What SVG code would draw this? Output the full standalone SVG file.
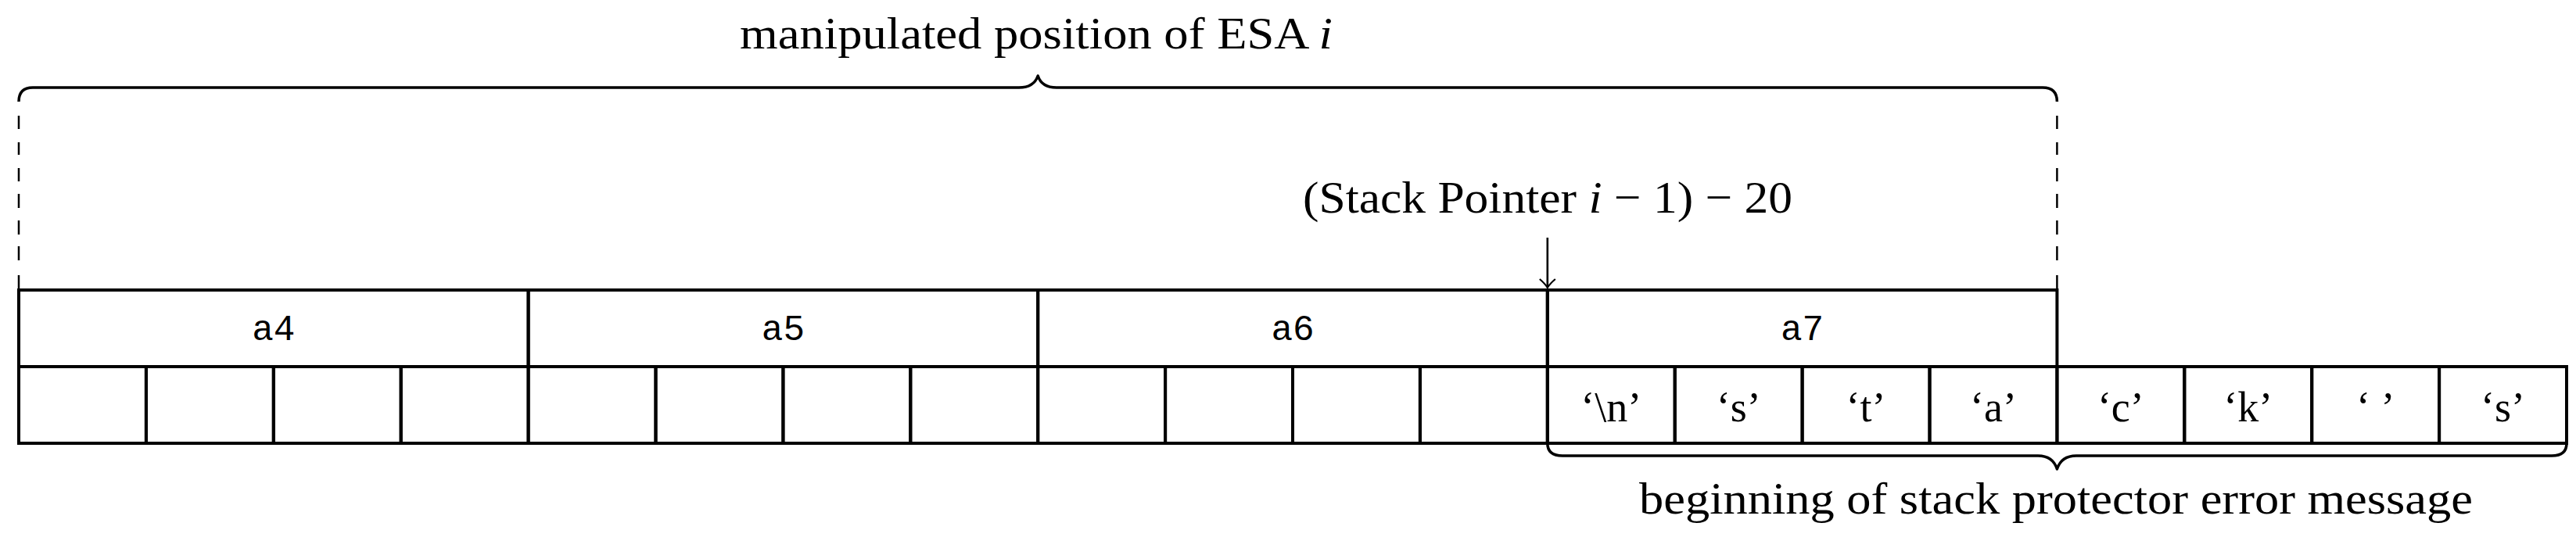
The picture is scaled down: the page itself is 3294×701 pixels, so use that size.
<svg xmlns="http://www.w3.org/2000/svg" width="3294" height="701" viewBox="0 0 3294 701">
<style>
.bg{fill:#ffffff}
.box{fill:none;stroke:#000;stroke-width:4}
.brace{fill:none;stroke:#000;stroke-width:3.5;stroke-linejoin:round}
.dash{fill:none;stroke:#000;stroke-width:2.5}
.conn{fill:none;stroke:#000;stroke-width:2.6}
.serif{font-family:"Liberation Serif","Times New Roman",serif;font-size:58px;fill:#000;text-anchor:middle}
.cell{font-family:"Liberation Serif","Times New Roman",serif;font-size:54px;fill:#000;text-anchor:middle}
.mono{font-family:"Liberation Mono","Courier New",monospace;font-size:46px;fill:#000;text-anchor:middle}
</style>
<defs>
<marker id="arr" markerWidth="14" markerHeight="24" refX="12" refY="12" orient="auto" markerUnits="userSpaceOnUse" viewBox="0 0 14 24">
<path d="M1,2 Q7,9 12,12 Q7,15 1,22" fill="none" stroke="#000" stroke-width="2.2"/>
</marker>
</defs>
<rect class="bg" x="0" y="0" width="3294" height="701"/>

<g id="top-brace">
<path class="brace" d="M24,130 Q24,112 42,112 L1303,112 Q1322,112 1327.2,97 Q1332,112 1351,112 L2612,112 Q2630.4,112 2630.4,130"/>
<path class="dash" d="M24,148 V165 M24,182 V198 M24,215 V232 M24,248 V266 M24,282 V300 M24,315 V333 M24,352 V371"/>
<path class="dash" d="M2630.4,148 V165 M2630.4,182 V198 M2630.4,215 V232 M2630.4,248 V266 M2630.4,282 V300 M2630.4,315 V333 M2630.4,352 V371"/>
<text class="serif" x="1325" y="62" textLength="758" lengthAdjust="spacingAndGlyphs">manipulated position of ESA <tspan font-style="italic">i</tspan></text>
</g>

<g id="sp-label">
<text class="serif" x="1979" y="272" textLength="626" lengthAdjust="spacingAndGlyphs">(Stack Pointer <tspan font-style="italic">i</tspan> − 1) − 20</text>
</g>

<g id="word-a4">
<rect class="box" x="24" y="371" width="651.6" height="98"/>
<text class="mono" x="349.8" y="435">a4</text>
</g>
<g id="word-a5">
<rect class="box" x="675.6" y="371" width="651.6" height="98"/>
<text class="mono" x="1001.4" y="435">a5</text>
</g>
<g id="word-a6">
<rect class="box" x="1327.2" y="371" width="651.6" height="98"/>
<text class="mono" x="1653" y="435">a6</text>
</g>
<g id="word-a7">
<rect class="box" x="1978.8" y="371" width="651.6" height="98"/>
<text class="mono" x="2304.6" y="435">a7</text>
</g>

<g id="byte-0"><rect class="box" x="24" y="469" width="162.9" height="98"/></g>
<g id="byte-1"><rect class="box" x="186.9" y="469" width="162.9" height="98"/></g>
<g id="byte-2"><rect class="box" x="349.8" y="469" width="162.9" height="98"/></g>
<g id="byte-3"><rect class="box" x="512.7" y="469" width="162.9" height="98"/></g>
<g id="byte-4"><rect class="box" x="675.6" y="469" width="162.9" height="98"/></g>
<g id="byte-5"><rect class="box" x="838.5" y="469" width="162.9" height="98"/></g>
<g id="byte-6"><rect class="box" x="1001.4" y="469" width="162.9" height="98"/></g>
<g id="byte-7"><rect class="box" x="1164.3" y="469" width="162.9" height="98"/></g>
<g id="byte-8"><rect class="box" x="1327.2" y="469" width="162.9" height="98"/></g>
<g id="byte-9"><rect class="box" x="1490.1" y="469" width="162.9" height="98"/></g>
<g id="byte-10"><rect class="box" x="1653" y="469" width="162.9" height="98"/></g>
<g id="byte-11"><rect class="box" x="1815.9" y="469" width="162.9" height="98"/></g>
<g id="byte-12"><rect class="box" x="1978.8" y="469" width="162.9" height="98"/><text class="cell" x="2060.25" y="539">‘\n’</text></g>
<g id="byte-13"><rect class="box" x="2141.7" y="469" width="162.9" height="98"/><text class="cell" x="2223.15" y="539">‘s’</text></g>
<g id="byte-14"><rect class="box" x="2304.6" y="469" width="162.9" height="98"/><text class="cell" x="2386.05" y="539">‘t’</text></g>
<g id="byte-15"><rect class="box" x="2467.5" y="469" width="162.9" height="98"/><text class="cell" x="2548.95" y="539">‘a’</text></g>
<g id="byte-16"><rect class="box" x="2630.4" y="469" width="162.9" height="98"/><text class="cell" x="2711.85" y="539">‘c’</text></g>
<g id="byte-17"><rect class="box" x="2793.3" y="469" width="162.9" height="98"/><text class="cell" x="2874.75" y="539">‘k’</text></g>
<g id="byte-18"><rect class="box" x="2956.2" y="469" width="162.9" height="98"/><text class="cell" x="3037.65" y="539" xml:space="preserve">‘ ’</text></g>
<g id="byte-19"><rect class="box" x="3119.1" y="469" width="162.9" height="98"/><text class="cell" x="3200.55" y="539">‘s’</text></g>

<g id="bottom-brace">
<path class="brace" d="M1978.8,567 Q1978.8,583 1998,583 L2606,583 Q2625,583 2630.4,600 Q2636,583 2655,583 L3263,583 Q3282,583 3282,567"/>
<text class="serif" x="2629" y="657" textLength="1066" lengthAdjust="spacingAndGlyphs">beginning of stack protector error message</text>
</g>

<g id="connectors">
<line class="conn" x1="1978.8" y1="304" x2="1978.8" y2="368" marker-end="url(#arr)"/>
</g>
</svg>
